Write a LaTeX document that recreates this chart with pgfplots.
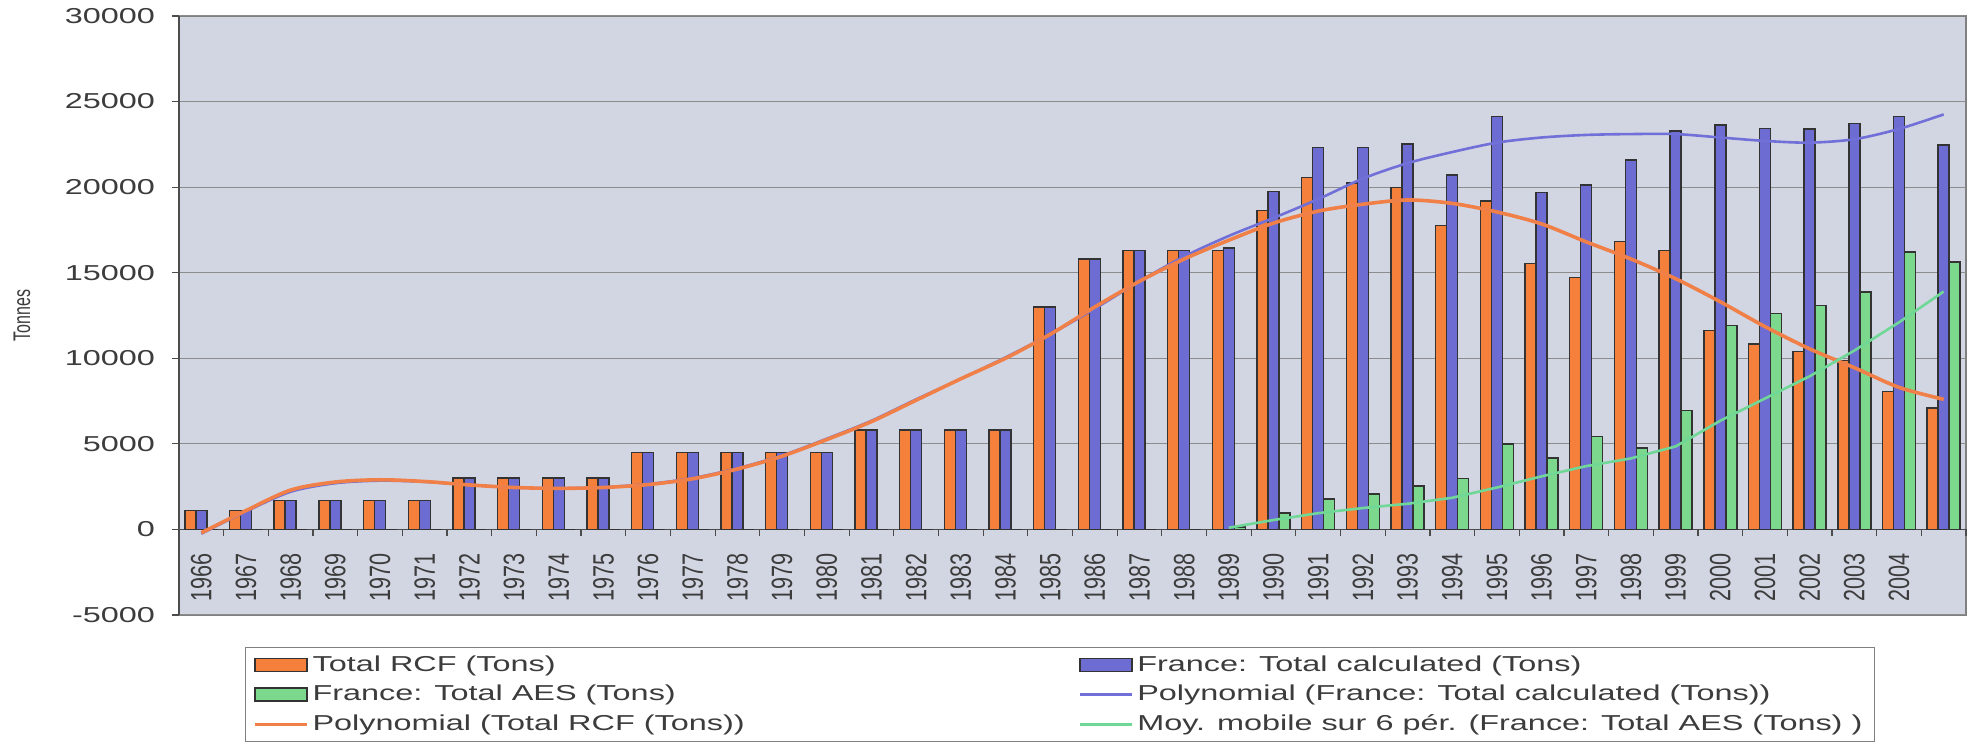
\documentclass[border=0pt]{standalone}
\usepackage{fontspec}
\setmainfont{Liberation Sans}[FakeStretch=1.5]
\newfontfamily\plainfont{Liberation Sans}
\usepackage{graphicx}
\usepackage{pgfplots}
\pgfplotsset{compat=1.18}
\definecolor{orangeB}{RGB}{244,128,60}
\definecolor{blueB}{RGB}{108,108,210}
\definecolor{greenB}{RGB}{124,216,140}
\definecolor{orangeL}{RGB}{240,128,72}
\definecolor{blueL}{RGB}{112,112,216}
\definecolor{greenL}{RGB}{112,216,150}
\definecolor{bgc}{RGB}{210,213,226}
\definecolor{textc}{RGB}{60,60,60}
\definecolor{gridc}{RGB}{140,140,140}
\newcommand\XL[1]{\scalebox{1}[1.36]{#1}}
\begin{document}
\begin{tikzpicture}
\useasboundingbox (-89.5pt,-63.5pt) rectangle (897pt,307.5pt);
\begin{axis}[
  at={(0pt,0pt)}, anchor=south west,
  width=893.5pt, height=299.5pt, scale only axis,
  xmin=-0.5, xmax=39.5, ymin=-5000, ymax=30000,
  ytick={-5000,0,5000,10000,15000,20000,25000,30000},
  scaled y ticks=false,
  ybar=0pt, bar width=5.5pt,
  axis x line=middle, axis y line=left,
  axis line style={-, draw=gray!60!black, line width=0.6pt},
  hide obscured y ticks=false, hide obscured x ticks=false,
  axis background/.style={fill=bgc, draw=gray, line width=0.6pt},
  ymajorgrids, grid style={gridc, line width=0.5pt},
  xtick={-0.5,0.5,...,39.5},
  x tick label as interval,
  xticklabels={\XL{1966},\XL{1967},\XL{1968},\XL{1969},\XL{1970},\XL{1971},\XL{1972},\XL{1973},\XL{1974},\XL{1975},\XL{1976},\XL{1977},\XL{1978},\XL{1979},\XL{1980},\XL{1981},\XL{1982},\XL{1983},\XL{1984},\XL{1985},\XL{1986},\XL{1987},\XL{1988},\XL{1989},\XL{1990},\XL{1991},\XL{1992},\XL{1993},\XL{1994},\XL{1995},\XL{1996},\XL{1997},\XL{1998},\XL{1999},\XL{2000},\XL{2001},\XL{2002},\XL{2003},\XL{2004},{}},
  major tick length=3.5pt,
  tick align=outside,
  tick style={draw=gray!60!black, line width=0.6pt},
  xticklabel style={yshift=-5pt, rotate=90, anchor=east, font=\plainfont\fontsize{10.8}{12}\selectfont, text=textc},
  yticklabel style={font=\fontsize{10.8}{12}\selectfont, text=textc, xshift=-5pt, /pgf/number format/1000 sep={}, /pgf/number format/assume math mode=true},
  ylabel={\plainfont\fontsize{8}{9}\selectfont\scalebox{1}[1.5]{Tonnes}},
  every axis y label/.style={at={(axis description cs:0,0.5)}, xshift=-78.5pt, rotate=90, anchor=center, text=textc},
  legend columns=2,
  legend cell align=left,
  legend style={at={(axis description cs:0,0)}, anchor=north west, xshift=33pt, yshift=-16pt,
    draw=gray, fill=white, line width=0.6pt, font=\fontsize{10.8}{12}\selectfont, text=textc,
    inner xsep=4pt, inner ysep=2pt, row sep=1.5pt,
    /tikz/column 2/.style={column sep=165pt}},
]
% Total RCF
\addplot[fill=orangeB, draw=black!80, line width=0.7pt,
  legend image code/.code={\draw[fill=orangeB, draw=black!80, line width=0.7pt] (0pt,-3.2pt) rectangle (26pt,3.2pt);}]
coordinates {(0,1100)(1,1100)(2,1700)(3,1700)(4,1700)(5,1700)(6,3000)(7,3000)(8,3000)(9,3000)
(10,4500)(11,4500)(12,4500)(13,4500)(14,4500)(15,5800)(16,5800)(17,5800)(18,5800)(19,13000)
(20,15800)(21,16300)(22,16300)(23,16300)(24,18650)(25,20550)(26,20250)(27,19980)(28,17770)(29,19180)
(30,15530)(31,14710)(32,16840)(33,16310)(34,11620)(35,10840)(36,10400)(37,9860)(38,8070)(39,7090)};
\addlegendentry{Total RCF (Tons)}
% France total calculated
\addplot[fill=blueB, draw=black!80, line width=0.7pt,
  legend image code/.code={\draw[fill=blueB, draw=black!80, line width=0.7pt] (0pt,-3.2pt) rectangle (26pt,3.2pt);}]
coordinates {(0,1100)(1,1100)(2,1700)(3,1700)(4,1700)(5,1700)(6,3000)(7,3000)(8,3000)(9,3000)
(10,4500)(11,4500)(12,4500)(13,4500)(14,4500)(15,5800)(16,5800)(17,5800)(18,5800)(19,13000)
(20,15800)(21,16300)(22,16300)(23,16450)(24,19730)(25,22320)(26,22320)(27,22520)(28,20700)(29,24120)
(30,19670)(31,20120)(32,21580)(33,23280)(34,23630)(35,23440)(36,23400)(37,23730)(38,24120)(39,22460)};
\addlegendentry{France: Total calculated (Tons)}
% France total AES
\addplot[fill=greenB, draw=black!80, line width=0.7pt,
  legend image code/.code={\draw[fill=greenB, draw=black!80, line width=0.7pt] (0pt,-3.2pt) rectangle (26pt,3.2pt);}]
coordinates {(0,0)(1,0)(2,0)(3,0)(4,0)(5,0)(6,0)(7,0)(8,0)(9,0)
(10,0)(11,0)(12,0)(13,0)(14,0)(15,0)(16,0)(17,0)(18,0)(19,0)
(20,0)(21,0)(22,0)(23,150)(24,950)(25,1770)(26,2060)(27,2540)(28,2960)(29,4980)
(30,4170)(31,5420)(32,4750)(33,6960)(34,11910)(35,12600)(36,13090)(37,13870)(38,16210)(39,15620)};
\addlegendentry{France: Total AES (Tons)}
% Polynomial calc
\addplot[smooth, blueL, line width=1.3pt,
  legend image code/.code={\draw[blueL, line width=1.3pt] (0pt,0pt) -- (26pt,0pt);}]
coordinates {(0,-250)(1,1050)(2,2200)(3,2700)(4,2850)(5,2780)(6,2600)(7,2450)(8,2400)(9,2470)
(10,2650)(11,3000)(12,3570)(13,4320)(14,5300)(15,6350)(16,7600)(17,8800)(18,10050)(19,11400)
(20,12900)(21,14500)(22,15950)(23,17150)(24,18200)(25,19300)(26,20500)(27,21400)(28,22050)(29,22600)
(30,22900)(31,23050)(32,23100)(33,23100)(34,22900)(35,22700)(36,22600)(37,22800)(38,23400)(39,24250)};
\addlegendentry{Polynomial (France: Total calculated (Tons))}
% Polynomial RCF
\addplot[smooth, orangeL, line width=1.8pt,
  legend image code/.code={\draw[orangeL, line width=1.5pt] (0pt,0pt) -- (26pt,0pt);}]
coordinates {(0,-200)(1,1100)(2,2300)(3,2770)(4,2900)(5,2800)(6,2600)(7,2450)(8,2400)(9,2450)
(10,2620)(11,2960)(12,3530)(13,4280)(14,5250)(15,6300)(16,7550)(17,8800)(18,10000)(19,11400)
(20,13000)(21,14500)(22,15800)(23,16900)(24,17900)(25,18600)(26,19000)(27,19250)(28,19050)(29,18550)
(30,17850)(31,16800)(32,15800)(33,14650)(34,13300)(35,11850)(36,10550)(37,9450)(38,8300)(39,7600)};
\addlegendentry{Polynomial (Total RCF (Tons))}
% Moving average AES
\addplot[sharp plot, greenL, line width=1.3pt,
  legend image code/.code={\draw[greenL, line width=1.3pt] (0pt,0pt) -- (26pt,0pt);}]
coordinates {(23,100)(24,550)(25,950)(26,1250)(27,1500)(28,1850)(29,2450)
(30,3100)(31,3700)(32,4150)(33,4850)(34,6350)(35,7650)(36,8950)(37,10450)(38,12100)(39,13900)};
\addlegendentry{Moy. mobile sur 6 pér. (France: Total AES (Tons) )}
\end{axis}
\end{tikzpicture}
\end{document}
